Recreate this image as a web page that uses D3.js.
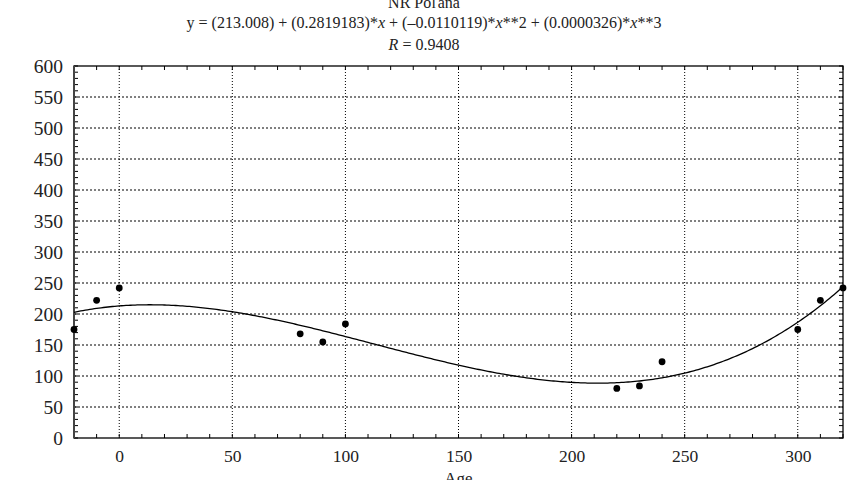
<!DOCTYPE html>
<html><head><meta charset="utf-8">
<script src="https://cdn.jsdelivr.net/npm/d3@7"></script>
<style>body{margin:0;background:#fff}svg{display:block}svg text{font-family:"Liberation Serif",serif !important;fill:#222}</style>
</head><body><svg id="c" width="849" height="480"></svg>
<script>
const ages = [-20, -10, 0, 80, 90, 100, 220, 230, 240, 300, 310, 320];
const values = [175, 222, 242, 168, 155, 184, 80, 84, 123, 175, 222, 242];
const coeffs = [213.008, 0.2819183, -0.0110119, 0.0000326];
const xTicks = [0, 50, 100, 150, 200, 250, 300];
const yTicks = [0, 50, 100, 150, 200, 250, 300, 350, 400, 450, 500, 550, 600];
const titleLines = ["NR Poľana", "y = (213.008) + (0.2819183)*x + (–0.0110119)*x**2 + (0.0000326)*x**3", "R = 0.9408"];

const svg = d3.select("#c");
const m = {l: 74, r: 843, t: 66, b: 438};
const x = d3.scaleLinear().domain([-20, 320]).range([m.l, m.r]);
const y = d3.scaleLinear().domain([0, 600]).range([m.b, m.t]);
const poly = a => coeffs[0] + coeffs[1]*a + coeffs[2]*a*a + coeffs[3]*a*a*a;

// grid
const g = svg.append("g");
g.selectAll(".gx").data(xTicks).join("line")
  .attr("x1", d => x(d)).attr("x2", d => x(d)).attr("y1", m.t).attr("y2", m.b)
  .attr("stroke", "#000").attr("stroke-width", 1).attr("stroke-dasharray", "1,2");
g.selectAll(".gy").data(yTicks.filter(d => d > 0 && d < 600)).join("line")
  .attr("x1", m.l).attr("x2", m.r).attr("y1", d => y(d)).attr("y2", d => y(d))
  .attr("stroke", "#000").attr("stroke-width", 1).attr("stroke-dasharray", "2,2");

// minor ticks, inward on all sides
const xMinor = d3.range(-20, 321, 10);
const yMinor = d3.range(0, 601, 10);
const tl = 4;
svg.append("g").selectAll("line").data(xMinor).join("line")
  .attr("x1", d => x(d)).attr("x2", d => x(d)).attr("y1", m.b).attr("y2", m.b - tl).attr("stroke", "#000");
svg.append("g").selectAll("line").data(xMinor).join("line")
  .attr("x1", d => x(d)).attr("x2", d => x(d)).attr("y1", m.t).attr("y2", m.t + tl).attr("stroke", "#000");
svg.append("g").selectAll("line").data(yMinor).join("line")
  .attr("x1", m.l).attr("x2", m.l + tl).attr("y1", d => y(d)).attr("y2", d => y(d)).attr("stroke", "#000");
svg.append("g").selectAll("line").data(yMinor).join("line")
  .attr("x1", m.r).attr("x2", m.r - tl).attr("y1", d => y(d)).attr("y2", d => y(d)).attr("stroke", "#000");

// frame
svg.append("rect").attr("x", m.l).attr("y", m.t).attr("width", m.r - m.l).attr("height", m.b - m.t)
  .attr("fill", "none").attr("stroke", "#000").attr("stroke-width", 1.3);
svg.append("line").attr("x1", m.l).attr("x2", m.l).attr("y1", m.t).attr("y2", m.b)
  .attr("stroke", "#444").attr("stroke-width", 2);

// axes labels via d3 axes (no lines)
const xa = svg.append("g").attr("transform", `translate(0,${m.b})`)
  .call(d3.axisBottom(x).tickValues(xTicks).tickSize(0).tickPadding(12));
const ya = svg.append("g").attr("transform", `translate(${m.l},0)`)
  .call(d3.axisLeft(y).tickValues(yTicks).tickSize(0).tickPadding(11));
[xa, ya].forEach(a => a.select(".domain").remove());
xa.selectAll("text").attr("font-size", 17.5).attr("fill", "#222");
ya.selectAll("text").attr("font-size", 19.5).attr("fill", "#222");

// curve
svg.append("clipPath").attr("id", "pc").append("rect")
  .attr("x", m.l).attr("y", m.t).attr("width", m.r - m.l).attr("height", m.b - m.t);
const curvePts = d3.range(-20, 320.01, 1).map(a => [a, poly(a)]);
svg.append("path").datum(curvePts).attr("clip-path", "url(#pc)")
  .attr("d", d3.line().x(d => x(d[0])).y(d => y(d[1])))
  .attr("fill", "none").attr("stroke", "#000").attr("stroke-width", 1.3);

// points
svg.append("g").selectAll("circle").data(ages).join("circle")
  .attr("cx", d => x(d)).attr("cy", (d, i) => y(values[i])).attr("r", 3.4).attr("fill", "#000");

// titles
const tx = 424;
svg.append("text").attr("x", tx).attr("y", 7.5).attr("text-anchor", "middle").attr("font-size", 16).text(titleLines[0]);
const t2 = svg.append("text").attr("x", tx).attr("y", 28).attr("text-anchor", "middle").attr("font-size", 16);
t2.append("tspan").text("y = (213.008) + (0.2819183)*");
t2.append("tspan").attr("font-style", "italic").text("x");
t2.append("tspan").text(" + (–0.0110119)*");
t2.append("tspan").attr("font-style", "italic").text("x");
t2.append("tspan").text("**2 + (0.0000326)*");
t2.append("tspan").attr("font-style", "italic").text("x");
t2.append("tspan").text("**3");
const t3 = svg.append("text").attr("x", tx).attr("y", 50).attr("text-anchor", "middle").attr("font-size", 16);
t3.append("tspan").attr("font-style", "italic").text("R");
t3.append("tspan").text(" = 0.9408");

svg.append("text").attr("x", x(150)).attr("y", 484).attr("text-anchor", "middle").attr("font-size", 17).text("Age");
</script></body></html>
